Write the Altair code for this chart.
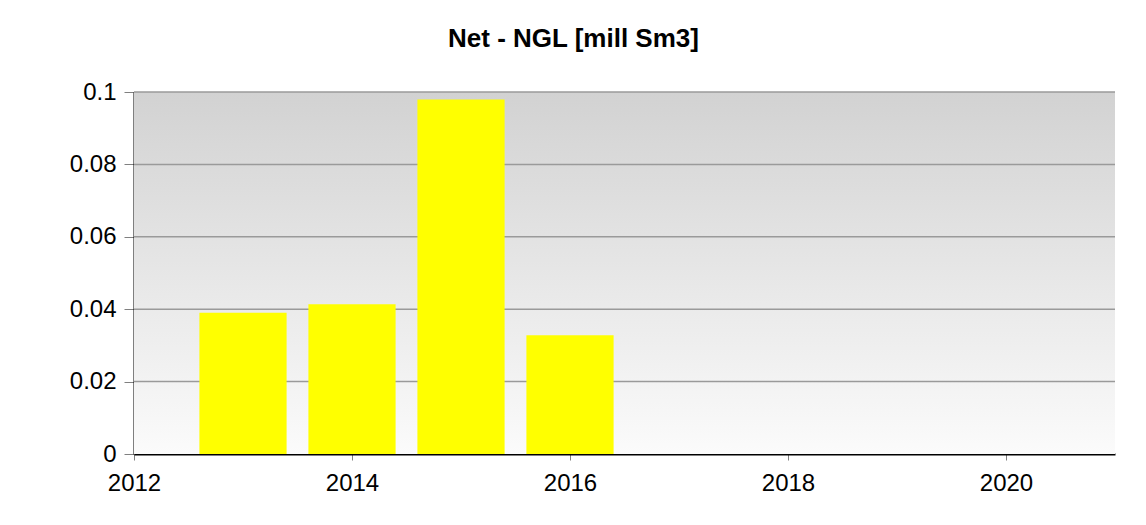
import altair as alt
import pandas as pd

# Data
years = [2013, 2014, 2015, 2016]
values = [0.0390, 0.0414, 0.0979, 0.0328]
x_ticks = [2012, 2014, 2016, 2018, 2020]
y_ticks = [0, 0.02, 0.04, 0.06, 0.08, 0.1]

df = pd.DataFrame({"year": years, "value": values})
grid_df = pd.DataFrame({"value": y_ticks[1:]})

FONT = "Liberation Sans"

bg_gradient = alt.LinearGradient(
    gradient="linear", x1=0, y1=0, x2=0, y2=1,
    stops=[alt.GradientStop(color="#d2d2d2", offset=0),
           alt.GradientStop(color="#fbfbfb", offset=1)],
)

y_scale = alt.Scale(domain=[0, 0.1], nice=False)
x_scale = alt.Scale(domain=[2012, 2021], nice=False, zero=False)

y_axis = alt.Axis(
    values=y_ticks, format="~g", title=None, grid=False,
    domainColor="#000000", domainWidth=2,
    tickColor="#808080", tickSize=10, tickWidth=1,
    labelFont=FONT, labelFontSize=24, labelColor="#000000",
    labelPadding=8, labelFlush=False,
)
x_axis = alt.Axis(
    values=x_ticks, format="d", title=None, grid=False,
    domainColor="#000000", domainWidth=2,
    tickColor="#808080", tickSize=6, tickWidth=1,
    labelFont=FONT, labelFontSize=24, labelColor="#000000",
    labelPadding=11, labelFlush=False,
)

background = (
    alt.Chart(pd.DataFrame({"a": [0]}))
    .mark_rect(fill=bg_gradient)
    .encode(x=alt.value(0), x2=alt.value("width"),
            y=alt.value(0), y2=alt.value("height"))
)

grid = (
    alt.Chart(grid_df)
    .mark_rule(color="#9a9a9a", strokeWidth=1.5)
    .encode(
        y=alt.Y("value:Q", scale=y_scale, axis=y_axis),
        x=alt.value(0), x2=alt.value("width"),
    )
)

bars = (
    alt.Chart(df)
    .transform_calculate(x0="datum.year - 0.4", x1="datum.year + 0.4")
    .mark_bar(color="#ffff00")
    .encode(
        x=alt.X("x0:Q", scale=x_scale, axis=x_axis),
        x2="x1:Q",
        y=alt.Y("value:Q", scale=y_scale, axis=y_axis),
        y2=alt.datum(0),
    )
)

chart = (
    alt.layer(background, grid, bars)
    .properties(
        width=981,
        height=362,
        title=alt.TitleParams(
            text="Net - NGL [mill Sm3]", font=FONT, fontSize=26,
            fontWeight="bold", color="#000000", anchor="middle",
            dx=-51, offset=28,
        ),
        autosize=alt.AutoSizeParams(type="none"),
        padding={"left": 126, "top": 84, "right": 23, "bottom": 55},
        background="#ffffff",
    )
    .configure_view(strokeWidth=0)
)

chart.save("out.html", embed_options={"renderer": "svg", "actions": False})
